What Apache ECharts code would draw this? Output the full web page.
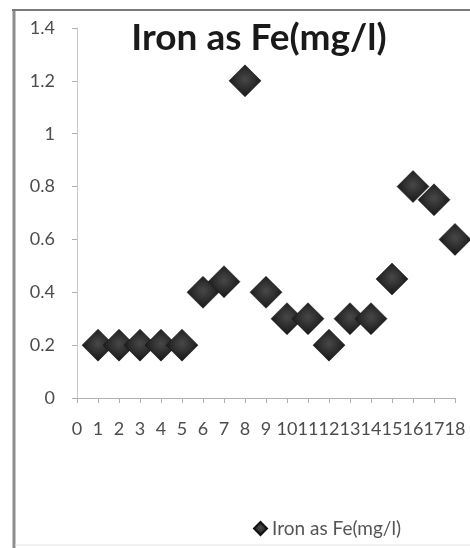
<!DOCTYPE html>
<html>
<head>
<meta charset="utf-8">
<script src="https://cdn.jsdelivr.net/npm/echarts@6/dist/echarts.min.js"></script>
<style>
html,body{margin:0;padding:0;background:#fff;}
#c{width:470px;height:548px;}
</style>
</head>
<body>
<div id="c"></div>
<script>
const titleText = "Iron as Fe(mg/l)";
const seriesName = "Iron as Fe(mg/l)";
const samples = [1, 2, 3, 4, 5, 6, 7, 8, 9, 10, 11, 12, 13, 14, 15, 16, 17, 18];
const ironValues = [0.2, 0.2, 0.2, 0.2, 0.2, 0.4, 0.44, 1.2, 0.4, 0.3, 0.3, 0.2, 0.3, 0.3, 0.45, 0.8, 0.75, 0.6];

const chart = echarts.init(document.getElementById('c'), null, {renderer: 'canvas'});
const markerColor = {
  type: 'radial', x: 0.5, y: 0.45, r: 0.55,
  colorStops: [{offset: 0, color: '#484848'}, {offset: 1, color: '#161616'}]
};
const fontFam = 'Lato';
chart.setOption({
  backgroundColor: '#ffffff',
  animation: false,
  title: {
    text: titleText,
    left: 254, top: 15, textAlign: 'center',
    textStyle: {fontFamily: fontFam, fontWeight: 'bold', fontSize: 37, color: '#1a1a1a'}
  },
  legend: {
    data: [seriesName],
    left: 248, top: 514,
    icon: 'diamond', itemWidth: 13, itemHeight: 13, itemGap: 4,
    textStyle: {fontFamily: fontFam, fontSize: 19, color: '#555555'}
  },
  grid: {left: 77, right: 15, top: 28, bottom: 150},
  xAxis: {
    type: 'value', min: 0, max: 18, interval: 1,
    splitLine: {show: false},
    axisLine: {show: true, onZero: false, lineStyle: {color: '#b0b0b0', width: 1}},
    axisTick: {show: true, inside: false, length: 5, lineStyle: {color: '#b0b0b0'}},
    axisLabel: {margin: 22, fontFamily: fontFam, fontSize: 18, color: '#4d4d4d', hideOverlap: false}
  },
  yAxis: {
    type: 'value', min: 0, max: 1.4, interval: 0.2,
    splitLine: {show: false},
    axisLine: {show: true, lineStyle: {color: '#c8c8c8', width: 1}},
    axisTick: {show: true, inside: false, length: 5, lineStyle: {color: '#b0b0b0'}},
    axisLabel: {margin: 22, fontFamily: fontFam, fontSize: 18, color: '#4d4d4d'}
  },
  series: [{
    name: seriesName,
    type: 'scatter',
    symbol: 'diamond',
    symbolSize: 32,
    itemStyle: {color: markerColor, opacity: 1, borderColor: '#111111', borderWidth: 0.5},
    data: samples.map((s, i) => [s, ironValues[i]])
  }],
  graphic: [
    {type: 'line', shape: {x1: 14, y1: 9, x2: 14, y2: 548}, style: {stroke: '#8c8c8c', lineWidth: 3}},
    {type: 'line', shape: {x1: 12, y1: 10, x2: 470, y2: 10}, style: {stroke: '#7a7a7a', lineWidth: 2}},
    {type: 'line', shape: {x1: 15, y1: 545, x2: 470, y2: 545}, style: {stroke: '#e6e6e6', lineWidth: 1}}
  ]
});
</script>
</body>
</html>
